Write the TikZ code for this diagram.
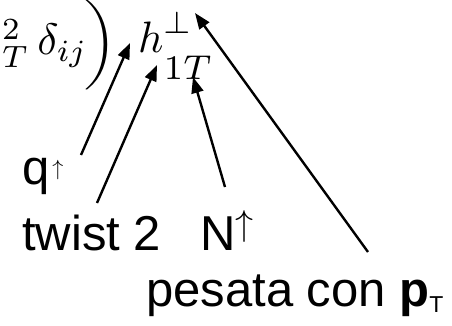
\documentclass[tikz,border=0pt]{standalone}
\usepackage{amsmath}
\usepackage{graphicx}
\usepackage{fontspec}
\newfontfamily\arial{Liberation Sans}
\usetikzlibrary{arrows.meta}
\newcommand{\bigmath}[1]{\scalebox{4.4}{$#1$}}
\newcommand{\uparr}[2]{\raisebox{#2}{\fontsize{10}{12}\selectfont\scalebox{#1}{$\uparrow$}}}
\tikzset{
  lbl/.style={font=\arial\fontsize{49}{55}\selectfont, inner sep=0pt, anchor=base west},
  mth/.style={inner sep=0pt},
  arr/.style={line width=2.4pt, -{Triangle[length=16pt,width=12pt]}}
}
\begin{document}
\begin{tikzpicture}[x=1pt,y=-1pt]
\useasboundingbox (0,0) rectangle (452,326);
\clip (0,0) rectangle (452,326);
% formula pieces
\node[mth, anchor=base west] (d) at (2,55) {\bigmath{{}^{2}_{T}\,\delta_{ij}}};
\node[mth] (par) at (101,45) {\scalebox{4.4}[3.75]{$\biggr)$}};
\node[mth, anchor=base west] (h) at (138,53) {\bigmath{h^{\raisebox{0.9pt}{$\scriptstyle\perp$}}_{\raisebox{-3.6pt}{\scalebox{1.12}{$\scriptstyle 1T$}}}}};
% labels
\node[lbl] (q) at (22,184) {q\kern3pt\uparr{2.2}{9pt}};
\node[lbl] (tw) at (22,250) {twist 2};
\node[lbl] (N) at (200,250) {N\uparr{3.6}{15pt}};
\node[lbl] (pes) at (146,306) {pesata con \textbf{p}\raisebox{-6pt}{\fontsize{23}{25}\selectfont T}};
% connector ends
\coordinate (qs) at (81,155);  \coordinate (qe) at (130,43);
\coordinate (ts) at (97,203);  \coordinate (te) at (157,65);
\coordinate (ns) at (225,187); \coordinate (ne) at (193,77);
\coordinate (ps) at (368,252); \coordinate (pe) at (195,13);
\draw[arr] (qs) -- (qe);
\draw[arr] (ts) -- (te);
\draw[arr] (ns) -- (ne);
\draw[arr] (ps) -- (pe);
\end{tikzpicture}
\end{document}
